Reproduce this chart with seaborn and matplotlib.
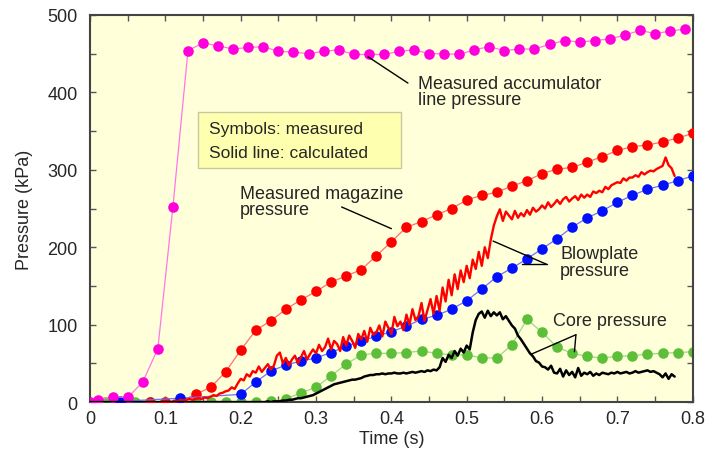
import numpy as np
import matplotlib
matplotlib.use("Agg")
import matplotlib.pyplot as plt
import seaborn as sns
from matplotlib.patches import Rectangle

# measured accumulator line pressure (magenta symbols)
acc_t = [0, 0.01, 0.03, 0.05, 0.07, 0.09, 0.11, 0.13, 0.15, 0.17, 0.19, 0.21, 0.23, 0.25, 0.27,
         0.29, 0.31, 0.33, 0.35, 0.37, 0.39, 0.41, 0.43, 0.45, 0.47, 0.49, 0.51, 0.53, 0.55,
         0.57, 0.59, 0.61, 0.63, 0.65, 0.67, 0.69, 0.71, 0.73, 0.75, 0.77, 0.79]
acc_p = [0, 3, 7, 6, 26, 69, 252, 454, 464, 460, 456, 458, 459, 453, 452, 450, 453, 455, 449,
         449, 449, 453, 455, 450, 450, 449, 455, 459, 454, 456, 456, 462, 467, 465, 467, 469,
         474, 480, 476, 479, 482]

# measured magazine pressure (red symbols)
mag_t = [0.08, 0.10, 0.12, 0.14, 0.16, 0.18, 0.20, 0.22, 0.24, 0.26, 0.28, 0.30, 0.32, 0.34,
         0.36, 0.38, 0.40, 0.42, 0.44, 0.46, 0.48, 0.50, 0.52, 0.54, 0.56, 0.58, 0.60, 0.62,
         0.64, 0.66, 0.68, 0.70, 0.72, 0.74, 0.76, 0.78, 0.80]
mag_p = [0, 0, 1, 10, 19, 39, 67, 93, 105, 120, 132, 143, 155, 163, 171, 189, 207, 226, 233,
         242, 250, 261, 267, 271, 279, 286, 295, 301, 303, 310, 317, 325, 330, 332, 336, 341, 347]

# measured blowplate pressure (blue symbols)
blow_t = [0.04, 0.12, 0.20, 0.22, 0.24, 0.26, 0.28, 0.30, 0.32, 0.34, 0.36, 0.38, 0.40, 0.42,
          0.44, 0.46, 0.48, 0.50, 0.52, 0.54, 0.56, 0.58, 0.60, 0.62, 0.64, 0.66, 0.68, 0.70,
          0.72, 0.74, 0.76, 0.78, 0.80]
blow_p = [1, 5, 10, 26, 40, 48, 53, 57, 64, 72, 79, 85, 91, 98, 107, 112, 120, 131, 146, 162,
          173, 185, 198, 211, 226, 238, 247, 258, 267, 275, 280, 286, 292]

# measured core pressure (green symbols)
core_t = [0.02, 0.04, 0.06, 0.08, 0.10, 0.12, 0.14, 0.16, 0.18, 0.20, 0.22, 0.24, 0.26, 0.28,
          0.30, 0.32, 0.34, 0.36, 0.38, 0.40, 0.42, 0.44, 0.46, 0.48, 0.50, 0.52, 0.54, 0.56,
          0.58, 0.60, 0.62, 0.64, 0.66, 0.68, 0.70, 0.72, 0.74, 0.76, 0.78, 0.80]
core_p = [0, 0, 0, 0, 0, 0, 0, 0, 0, 0, 0, 1, 4, 12, 19, 34, 49, 61, 63, 63, 64, 66, 63, 61,
          61, 57, 57, 74, 107, 90, 71, 63, 59, 57, 59, 60, 62, 63, 64, 65]

# calculated curves, sampled every 4 ms from 0.100 s to 0.776 s
calc_t = np.linspace(0.100, 0.776, 170)
calc_blow = [0, 1, 0, 2, 1, 3, 2, 3, 4, 3,
             4, 5, 4, 6, 5, 7, 9, 8, 11, 12,
             14, 15, 19, 17, 24, 30, 28, 36, 33, 40,
             38, 46, 39, 44, 49, 42, 47, 60, 64, 50,
             57, 47, 55, 60, 50, 58, 66, 55, 62, 68,
             63, 74, 66, 71, 82, 68, 79, 75, 66, 84,
             73, 86, 79, 70, 88, 81, 92, 78, 96, 87,
             90, 99, 85, 104, 96, 88, 110, 98, 104, 93,
             113, 100, 120, 106, 111, 128, 105, 119, 133, 114,
             137, 118, 148, 130, 158, 138, 165, 146, 170, 155,
             176, 160, 184, 172, 194, 176, 200, 186, 210, 228,
             240, 249, 234, 246, 241, 236, 247, 238, 244, 240,
             248, 242, 251, 246, 249, 254, 250, 258, 252, 256,
             261, 256, 262, 265, 259, 263, 266, 261, 268, 264,
             268, 265, 272, 270, 273, 271, 278, 275, 280, 282,
             284, 283, 289, 286, 290, 290, 293, 291, 297, 294,
             297, 299, 298, 301, 303, 305, 316, 306, 302, 292]
calc_core = [0, 0, 0, 0, 0, 0, 0, 0, 0, 0,
             0, 0, 0, 0, 0, 0, 0, 0, 0, 0,
             0, 0, 0, 0, 0, 0, 0, 0, 0, 0,
             0, 0, 0, 0, 1, 0, 1, 1, 1, 2,
             2, 3, 3, 4, 5, 5, 6, 7, 8, 9,
             11, 13, 15, 17, 19, 21, 23, 24, 25, 26,
             27, 28, 29, 29, 30, 31, 33, 34, 35, 35,
             36, 36, 37, 36, 37, 37, 38, 37, 37, 38,
             37, 38, 39, 38, 39, 40, 39, 41, 40, 42,
             41, 45, 57, 52, 61, 57, 66, 60, 69, 64,
             73, 68, 90, 106, 114, 117, 109, 118, 111, 116,
             112, 116, 107, 111, 105, 99, 95, 86, 81, 75,
             69, 63, 59, 53, 51, 46, 45, 42, 47, 38,
             37, 43, 33, 41, 35, 39, 32, 44, 34, 38,
             36, 39, 34, 37, 35, 38, 37, 36, 38, 37,
             39, 37, 38, 39, 37, 38, 40, 38, 39, 40,
             41, 39, 40, 38, 36, 32, 37, 30, 36, 33]

xticks = [0, 0.1, 0.2, 0.3, 0.4, 0.5, 0.6, 0.7, 0.8]
xtick_labels = ["0", "0.1", "0.2", "0.3", "0.4", "0.5", "0.6", "0.7", "0.8"]
yticks = [0, 100, 200, 300, 400, 500]

sns.set_style("ticks")
plt.rcParams['font.family'] = ['Liberation Sans', 'DejaVu Sans']

fig = plt.figure(figsize=(7.09, 4.56), dpi=100)
ax = fig.add_axes([0.127, 0.116, 0.850, 0.849])
ax.set_facecolor("#FFFFD9")

# measured series: thin light connecting line + big dots
series = [
    (core_t, core_p, "#5DBE3A", "#9AD985"),
    (mag_t, mag_p, "#FF0000", "#FF7070"),
    (blow_t, blow_p, "#0010FF", "#7070FF"),
    (acc_t, acc_p, "#FF00DD", "#FF77E6"),
]
for i, (t, p, c, lc) in enumerate(series):
    sns.lineplot(x=t, y=p, ax=ax, color=lc, lw=0.9, estimator=None, sort=False, zorder=2 + i)
    sns.scatterplot(x=t, y=p, ax=ax, color=c, s=58, linewidth=0, zorder=2.5 + i)

# calculated curves
sns.lineplot(x=calc_t, y=calc_blow, ax=ax, color="#FF0000", lw=1.7, estimator=None, sort=False, zorder=8)
sns.lineplot(x=[0.0] + list(calc_t), y=[0] + calc_core, ax=ax, color="black", lw=1.8,
             estimator=None, sort=False, zorder=9)

ax.set_xlim(0, 0.8)
ax.set_ylim(0, 500)
ax.set_xticks(xticks)
ax.set_xticklabels(xtick_labels)
ax.set_xticks(np.arange(0.05, 0.8, 0.1), minor=True)
ax.set_yticks(yticks)
ax.set_yticks([50, 150, 250, 350, 450], minor=True)
ax.tick_params(which='both', direction='in', top=True, right=True, length=4, width=1,
               color="#555555", labelsize=13)
ax.tick_params(axis='x', pad=6)
ax.tick_params(axis='y', pad=9)
for s in ax.spines.values():
    s.set_color("#444444")
    s.set_linewidth(1.5)

ax.set_xlabel("Time (s)", fontsize=13, labelpad=2)
ax.set_ylabel("Pressure (kPa)", fontsize=13, labelpad=10)

# legend-like box
ax.add_patch(Rectangle((0.143, 302), 0.270, 73, facecolor="#FFFFB0", edgecolor="#C8C8A0",
                       lw=1, zorder=10))
ax.text(0.158, 354, "Symbols: measured", fontsize=12.5, va='center', zorder=11)
ax.text(0.158, 322, "Solid line: calculated", fontsize=12.5, va='center', zorder=11)

# annotations
ax.text(0.435, 401, "Measured accumulator\nline pressure", fontsize=13, va='center',
        linespacing=0.95, zorder=11)
ax.plot([0.369, 0.422], [446, 412], color="black", lw=1, zorder=11)

ax.text(0.199, 259, "Measured magazine\npressure", fontsize=13, va='center',
        linespacing=0.95, zorder=11)
ax.plot([0.334, 0.400], [252, 224], color="black", lw=1, zorder=11)

ax.text(0.624, 181, "Blowplate\npressure", fontsize=13, va='center',
        linespacing=0.95, zorder=11)
ax.plot([0.606, 0.535], [178, 208], color="black", lw=1, zorder=11)
ax.plot([0.606, 0.573], [178, 178], color="black", lw=1, zorder=11)

ax.text(0.614, 105, "Core pressure", fontsize=13, va='center', zorder=11)
ax.plot([0.645, 0.586], [87, 62], color="black", lw=1, zorder=11)
ax.plot([0.645, 0.643], [87, 65], color="black", lw=1, zorder=11)

fig.savefig("out.png", dpi=100)
